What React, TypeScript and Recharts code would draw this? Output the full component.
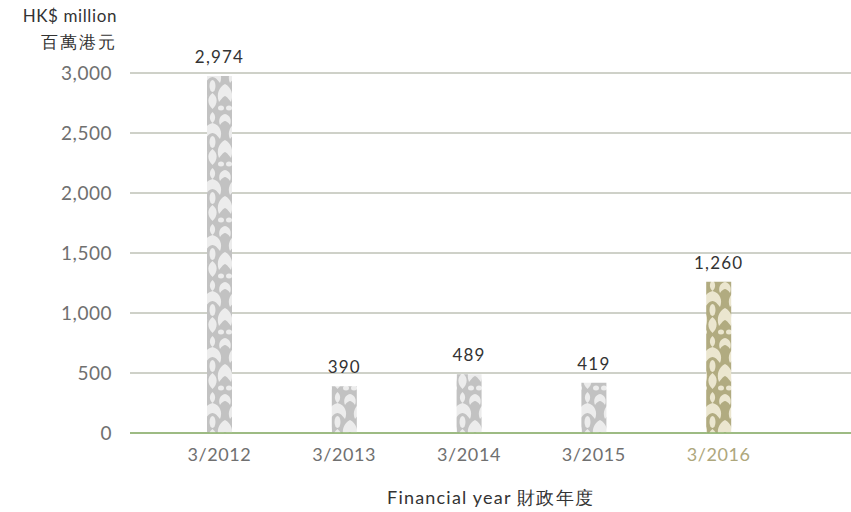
import { BarChart, Bar, XAxis, YAxis, CartesianGrid, LabelList, Cell, ReferenceLine } from 'recharts'

const categories = ['3/2012', '3/2013', '3/2014', '3/2015', '3/2016']
const values = [2974, 390, 489, 419, 1260]
const yTicks = [0, 500, 1000, 1500, 2000, 2500, 3000]

const FONT = 'Lato, "Noto Sans", sans-serif'
const GOLD = '#aea77c'

const data = categories.map((c, i) => ({ name: c, value: values[i] }))

function Damask({ id, base, light }: { id: string; base: string; light: string }) {
  return (
    <pattern id={id} x="0" y="0" width="25" height="56" patternUnits="userSpaceOnUse">
      <rect width="25" height="56" fill={base} />
      <g fill={light}>
        <path d="M12.5 0 C9 3 9 8 12.5 11 C16 8 16 3 12.5 0 Z" />
        <path d="M0 2 C5 3 7 8 5 13 C3 10 1 9 0 9 Z" />
        <path d="M25 2 C20 3 18 8 20 13 C22 10 24 9 25 9 Z" />
        <path d="M12.5 11 C5 13 2 20 5 27 C8 23 10 21 12.5 21 C15 21 17 23 20 27 C23 20 20 13 12.5 11 Z" />
        <ellipse cx="12.5" cy="30" rx="3" ry="6" />
        <path d="M0 28 C6 31 9 38 6 46 C3 42 1 40 0 40 Z" />
        <path d="M25 28 C19 31 16 38 19 46 C22 42 24 40 25 40 Z" />
        <path d="M12.5 37 C7 41 7 48 12.5 53 C18 48 18 41 12.5 37 Z" />
        <ellipse cx="4" cy="52" rx="3" ry="2.5" />
        <ellipse cx="21" cy="52" rx="3" ry="2.5" />
      </g>
    </pattern>
  )
}

export default function App() {
  return (
    <div style={{ position: 'absolute', left: 0, top: 0, width: 851, height: 512, background: '#fff' }}>
      <BarChart width={851} height={512} data={data} margin={{ top: 73, right: 0, left: 0, bottom: 0 }}>
        <defs>
          <Damask id="patGray" base="#c2c2c2" light="#ececec" />
          <Damask id="patGold" base="#b1ab80" light="#ebe6cf" />
        </defs>
        <CartesianGrid vertical={false} stroke="#9ea392" strokeWidth={1} />
        <XAxis
          dataKey="name"
          height={79}
          padding={{ left: 27, right: 70 }}
          tickLine={false}
          axisLine={false}
          interval={0}
          tick={(props: any) => (
            <text
              x={props.x}
              y={props.y + 20}
              textAnchor="middle"
              fontFamily={FONT}
              fontSize={18}
              letterSpacing={0.6}
              fill={props.payload.value === '3/2016' ? GOLD : '#707070'}
            >
              {props.payload.value}
            </text>
          )}
          label={{ value: 'Financial year 財政年度', position: 'insideBottom', offset: 8, fill: '#333', fontSize: 18, fontFamily: FONT, letterSpacing: 1.2 }}
        />
        <YAxis
          width={130}
          domain={[0, 3000]}
          ticks={yTicks}
          tickLine={false}
          axisLine={false}
          tickMargin={12}
          tick={{ fill: '#707070', fontSize: 19, fontFamily: FONT, letterSpacing: 0.5 }}
          tickFormatter={(v: number) => v.toLocaleString('en-US')}
        />
        <ReferenceLine y={0} stroke="#8db36c" strokeWidth={1.5} />
        <Bar dataKey="value" barSize={25} isAnimationActive={false}>
          {data.map((d) => (
            <Cell key={d.name} fill={d.name === '3/2016' ? 'url(#patGold)' : 'url(#patGray)'} />
          ))}
          <LabelList
            dataKey="value"
            position="top"
            offset={13}
            fill="#333"
            fontSize={17}
            fontFamily={FONT}
            letterSpacing={1.2}
            formatter={(v: any) => Number(v).toLocaleString('en-US')}
          />
        </Bar>
        <text x={117} y={22} textAnchor="end" fontFamily={FONT} fontSize={17} letterSpacing={0.6} fill="#333">HK$ million</text>
        <text x={117} y={48} textAnchor="end" fontFamily={FONT} fontSize={17} letterSpacing={2} fill="#333">百萬港元</text>
      </BarChart>
    </div>
  )
}
